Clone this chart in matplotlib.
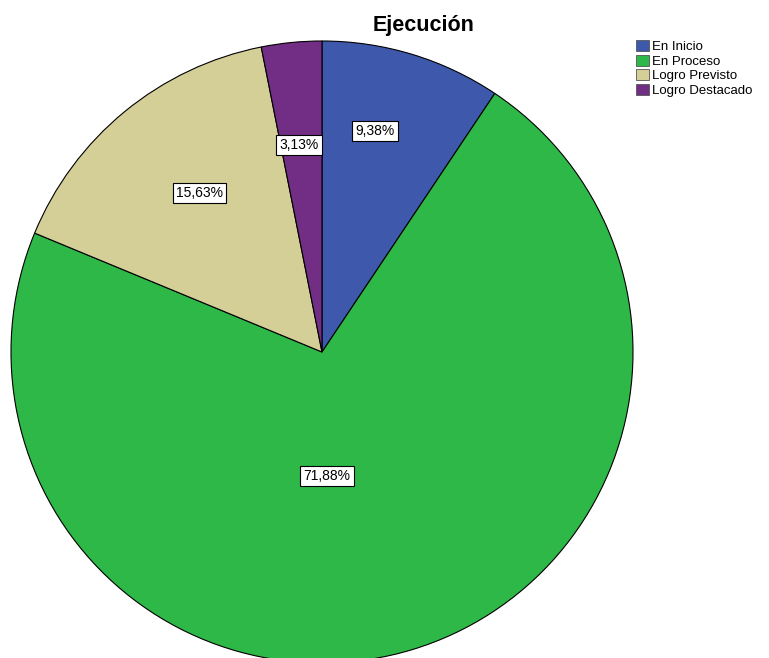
import matplotlib
matplotlib.use("Agg")
import matplotlib.pyplot as plt
from matplotlib.patches import Patch

plt.rcParams['font.family'] = ['Liberation Sans', 'DejaVu Sans']

categories = ["En Inicio", "En Proceso", "Logro Previsto", "Logro Destacado"]
values = [9.38, 71.88, 15.63, 3.13]
pct_labels = ["9,38%", "71,88%", "15,63%", "3,13%"]
colors = ["#3E58AC", "#2EB848", "#D4CE97", "#722E85"]
title = "Ejecución"

W, H = 769, 658
cx, cy, R = 322, 352, 311

fig = plt.figure(figsize=(W / 100, H / 100), dpi=100)
ax = fig.add_axes([0, 0, 1, 1])
ax.axis('off')

wedges, _ = ax.pie(values, colors=colors, startangle=90, counterclock=False,
                   radius=1.0, wedgeprops=dict(edgecolor='black', linewidth=0.8))
ax.set_aspect('auto')
ax.set_xlim(-cx / R, (W - cx) / R)
ax.set_ylim(-(H - cy) / R, cy / R)

# label positions (layout, data units of pie radius)
label_pos = [(0.170, 0.711), (0.016, -0.399), (-0.395, 0.511), (-0.074, 0.666)]
for (x, y), txt in zip(label_pos, pct_labels):
    ax.text(x, y, txt, ha='center', va='center', fontsize=10, color='black',
            bbox=dict(boxstyle='square,pad=0.22', facecolor='white', edgecolor='black', linewidth=0.8))

fig.text(424 / W, 1 - 25 / H, title, ha='center', va='center', fontsize=15.5, fontweight='bold')

handles = [Patch(facecolor=c, edgecolor='#555555', linewidth=0.6) for c in colors]
leg = fig.legend(handles, categories, loc='upper left', bbox_to_anchor=(636 / W, 1 - 40 / H),
                 frameon=False, fontsize=9.5, handlelength=0.95, handleheight=0.95,
                 handletextpad=0.3, labelspacing=0.1, borderpad=0, borderaxespad=0)

fig.savefig("out.png", dpi=100, facecolor='white')
